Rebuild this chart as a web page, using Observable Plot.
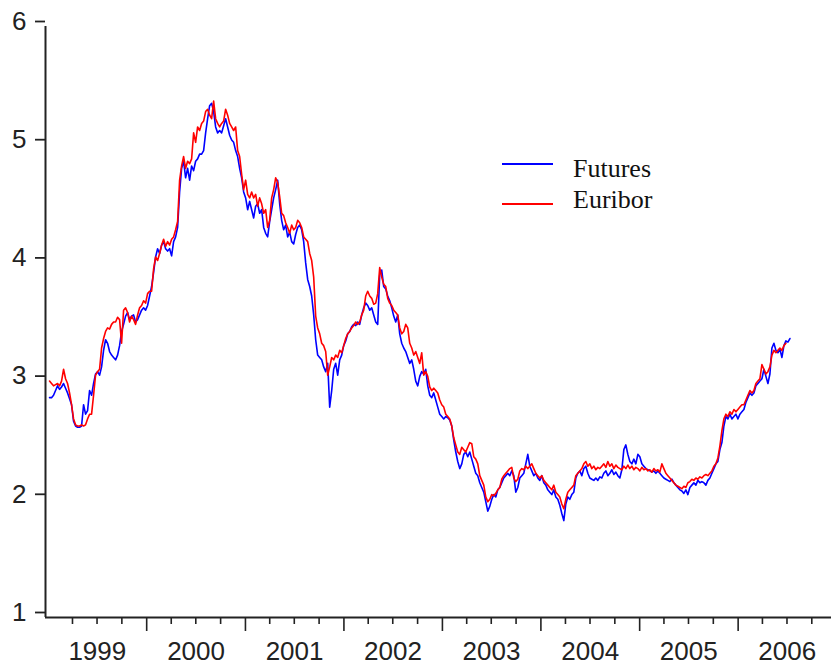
<!DOCTYPE html>
<html>
<head>
<meta charset="utf-8">
<script src="https://cdn.jsdelivr.net/npm/d3@7"></script>
<script src="https://cdn.jsdelivr.net/npm/@observablehq/plot@0.6"></script>
<style>
  html, body { margin: 0; padding: 0; background: #fff; }
  #wrap { position: relative; width: 831px; height: 671px; }
  #legend { position: absolute; left: 0; top: 0; pointer-events: none; }
</style>
</head>
<body>
<div id="wrap"></div>
<script>
// Sampling grid of the series (roughly weekly observations)
const sampleStart = "1999-01-06";
const sampleStepDays = 7.416;

// Series names and colours
const seriesNames = ["Futures", "Euribor"];
const seriesColors = ["#0000ff", "#ff0000"];

// Futures rate (%)
const futures = [
  2.86, 2.86, 2.88, 2.92, 2.96, 2.93, 2.95, 2.98, 2.94, 2.90,
  2.85, 2.80, 2.66, 2.62, 2.61, 2.61, 2.62, 2.80, 2.72, 2.75,
  2.92, 2.88, 2.98, 3.06, 3.08, 3.05, 3.12, 3.26, 3.35, 3.32,
  3.25, 3.22, 3.20, 3.18, 3.22, 3.30, 3.42, 3.48, 3.55, 3.58,
  3.52, 3.55, 3.56, 3.50, 3.52, 3.56, 3.60, 3.62, 3.60, 3.64,
  3.72, 3.80, 3.92, 4.05, 4.12, 4.08, 4.15, 4.18, 4.12, 4.10,
  4.12, 4.06, 4.18, 4.22, 4.30, 4.60, 4.80, 4.86, 4.72, 4.80,
  4.70, 4.82, 4.78, 4.86, 4.88, 4.92, 4.92, 4.95, 5.10, 5.22,
  5.33, 5.35, 5.28, 5.15, 5.10, 5.12, 5.10, 5.16, 5.22, 5.15,
  5.08, 5.04, 5.02, 4.95, 4.90, 4.80, 4.72, 4.60, 4.55, 4.45,
  4.52, 4.45, 4.38, 4.48, 4.50, 4.42, 4.45, 4.30, 4.25, 4.22,
  4.35, 4.45, 4.55, 4.62, 4.70, 4.50, 4.36, 4.28, 4.32, 4.22,
  4.26, 4.18, 4.16, 4.24, 4.30, 4.32, 4.28, 4.18, 4.00, 3.86,
  3.80, 3.72, 3.56, 3.35, 3.22, 3.20, 3.18, 3.12, 3.08, 3.15,
  2.78, 2.92, 3.10, 3.15, 3.05, 3.18, 3.22, 3.30, 3.34, 3.40,
  3.42, 3.46, 3.48, 3.47, 3.50, 3.48, 3.56, 3.62, 3.66, 3.64,
  3.60, 3.62, 3.56, 3.50, 3.48, 3.90, 3.94, 3.80, 3.78, 3.72,
  3.68, 3.62, 3.55, 3.50, 3.56, 3.40, 3.32, 3.28, 3.25, 3.20,
  3.15, 3.18, 3.10, 3.00, 2.96, 3.04, 3.08, 3.06, 3.10, 2.96,
  2.88, 2.86, 2.90, 2.84, 2.78, 2.72, 2.70, 2.68, 2.70, 2.69,
  2.67, 2.62, 2.50, 2.40, 2.32, 2.26, 2.30, 2.38, 2.40, 2.36,
  2.40, 2.34, 2.28, 2.22, 2.20, 2.14, 2.10, 2.06, 1.98, 1.90,
  1.94, 2.00, 2.04, 2.02, 2.08, 2.10, 2.14, 2.18, 2.20, 2.22,
  2.20, 2.24, 2.20, 2.06, 2.10, 2.18, 2.20, 2.22, 2.30, 2.38,
  2.28, 2.24, 2.20, 2.22, 2.18, 2.16, 2.20, 2.14, 2.12, 2.08,
  2.06, 2.04, 2.08, 2.02, 2.00, 1.95, 1.88, 1.82, 1.96, 2.02,
  2.00, 2.04, 2.06, 2.18, 2.22, 2.24, 2.20, 2.26, 2.28, 2.22,
  2.18, 2.17, 2.16, 2.18, 2.16, 2.19, 2.18, 2.22, 2.24, 2.20,
  2.22, 2.25, 2.21, 2.23, 2.20, 2.18, 2.25, 2.42, 2.46, 2.38,
  2.32, 2.30, 2.34, 2.30, 2.38, 2.36, 2.30, 2.28, 2.26, 2.25,
  2.24, 2.23, 2.24, 2.22, 2.24, 2.22, 2.20, 2.18, 2.17, 2.16,
  2.15, 2.17, 2.14, 2.12, 2.10, 2.08, 2.07, 2.05, 2.08, 2.04,
  2.10, 2.12, 2.14, 2.12, 2.16, 2.14, 2.15, 2.14, 2.12, 2.16,
  2.18, 2.22, 2.26, 2.30, 2.32, 2.42, 2.48, 2.62, 2.70, 2.68,
  2.72, 2.68, 2.70, 2.72, 2.68, 2.72, 2.74, 2.76, 2.82, 2.86,
  2.90, 2.88, 2.90, 2.96, 2.98, 3.00, 3.02, 3.10, 3.04, 2.98,
  3.06, 3.28, 3.32, 3.26, 3.24, 3.27, 3.20, 3.30, 3.34, 3.33,
  3.36
];

// 3-month Euribor (%)
const euribor = [
  3.00, 2.98, 2.96, 2.97, 2.98, 2.96, 3.00, 3.10, 3.02, 2.98,
  2.90, 2.80, 2.68, 2.63, 2.62, 2.62, 2.63, 2.62, 2.63, 2.68,
  2.72, 2.72, 2.88, 3.05, 3.08, 3.10, 3.28, 3.36, 3.42, 3.45,
  3.44, 3.48, 3.50, 3.50, 3.54, 3.52, 3.32, 3.60, 3.62, 3.58,
  3.50, 3.55, 3.52, 3.48, 3.56, 3.62, 3.64, 3.68, 3.66, 3.74,
  3.76, 3.76, 3.95, 4.05, 4.02, 4.08, 4.15, 4.20, 4.14, 4.18,
  4.15, 4.20, 4.22, 4.28, 4.35, 4.70, 4.82, 4.90, 4.80, 4.86,
  4.84, 4.88, 5.10, 5.02, 5.15, 5.12, 5.18, 5.20, 5.28, 5.30,
  5.25, 5.22, 5.37, 5.22, 5.18, 5.15, 5.18, 5.20, 5.30, 5.25,
  5.18, 5.15, 5.12, 5.15, 4.95, 4.90, 4.75, 4.62, 4.70, 4.58,
  4.55, 4.60, 4.55, 4.58, 4.48, 4.55, 4.50, 4.42, 4.45, 4.30,
  4.36, 4.55, 4.62, 4.72, 4.68, 4.56, 4.42, 4.40, 4.34, 4.30,
  4.25, 4.32, 4.28, 4.30, 4.36, 4.34, 4.30, 4.22, 4.20, 4.18,
  4.08, 4.02, 3.88, 3.55, 3.45, 3.40, 3.32, 3.30, 3.25, 3.05,
  3.12, 3.20, 3.18, 3.22, 3.20, 3.26, 3.24, 3.30, 3.36, 3.40,
  3.42, 3.45, 3.47, 3.50, 3.48, 3.50, 3.56, 3.60, 3.72, 3.76,
  3.72, 3.70, 3.65, 3.66, 3.74, 3.96, 3.88, 3.82, 3.80, 3.70,
  3.66, 3.64, 3.60, 3.58, 3.56, 3.45, 3.40, 3.42, 3.48, 3.45,
  3.32, 3.28, 3.22, 3.25, 3.20, 3.15, 3.24, 3.05, 3.08, 3.04,
  2.95, 2.92, 2.94, 2.92, 2.90, 2.84, 2.80, 2.78, 2.72, 2.70,
  2.68, 2.62, 2.52, 2.46, 2.40, 2.38, 2.44, 2.42, 2.40, 2.44,
  2.48, 2.47, 2.36, 2.34, 2.30, 2.20, 2.16, 2.12, 2.02, 1.98,
  2.00, 2.04, 2.03, 2.05, 2.08, 2.10, 2.17, 2.20, 2.22, 2.24,
  2.26, 2.27, 2.18, 2.15, 2.17, 2.24, 2.26, 2.25, 2.28, 2.26,
  2.28, 2.30, 2.26, 2.22, 2.20, 2.18, 2.20, 2.16, 2.14, 2.12,
  2.10, 2.08, 2.12, 2.06, 2.04, 2.02, 1.96, 1.92, 2.00, 2.06,
  2.08, 2.10, 2.12, 2.20, 2.22, 2.24, 2.26, 2.30, 2.32, 2.28,
  2.30, 2.26, 2.28, 2.25, 2.27, 2.26, 2.28, 2.30, 2.27, 2.32,
  2.28, 2.30, 2.26, 2.29, 2.27, 2.26, 2.25, 2.28, 2.26, 2.29,
  2.26, 2.28, 2.25, 2.27, 2.26, 2.24, 2.27, 2.25, 2.26, 2.24,
  2.25, 2.23, 2.26, 2.24, 2.25, 2.23, 2.30, 2.26, 2.22, 2.20,
  2.18, 2.16, 2.14, 2.12, 2.11, 2.10, 2.09, 2.11, 2.10, 2.14,
  2.15, 2.17, 2.16, 2.18, 2.17, 2.19, 2.18, 2.20, 2.21, 2.20,
  2.22, 2.24, 2.28, 2.30, 2.35, 2.45, 2.58, 2.68, 2.72, 2.70,
  2.74, 2.72, 2.76, 2.74, 2.76, 2.78, 2.80, 2.80, 2.84, 2.88,
  2.92, 2.90, 2.92, 2.98, 3.00, 3.02, 3.14, 3.10, 3.06, 3.08,
  3.12, 3.22, 3.26, 3.24, 3.26, 3.28, 3.26, 3.30, 3.32, null,
  null
];

// Axis definitions
const xDomain = ["1998-12-22", "2006-12-13"];
const yTicks = [1, 2, 3, 4, 5, 6];
const yearLabels = [1999, 2000, 2001, 2002, 2003, 2004, 2005, 2006];

// ---- build tables ----
const t0 = Date.parse(sampleStart);
const dateAt = i => new Date(t0 + i * sampleStepDays * 864e5);
const toRows = (vals, name) => vals
  .map((v, i) => ({date: dateAt(i), value: v, series: name}))
  .filter(d => d.value != null);
const futRows = toRows(futures, seriesNames[0]);
const eurRows = toRows(euribor, seriesNames[1]);

const yearStarts = yearLabels.slice(1).map(y => new Date(Date.UTC(y, 0, 1)));
const quarterTicks = [];
yearLabels.forEach(y => [3, 6, 9].forEach(m => quarterTicks.push(new Date(Date.UTC(y, m, 1)))));
const midYears = yearLabels.map(y => new Date(Date.UTC(y, 6, 2)));

const xd = xDomain.map(s => new Date(s + "T00:00:00Z"));

const chart = Plot.plot({
  width: 831,
  height: 671,
  marginLeft: 45,
  marginRight: 0,
  marginTop: 26,
  marginBottom: 54,
  x: {type: "utc", domain: xd, label: null},
  y: {domain: [1, 6], label: null},
  style: {
    fontFamily: "'Liberation Sans', Arial, sans-serif",
    fontSize: "26px",
    color: "#222",
    background: "#fff",
    overflow: "visible"
  },
  marks: [
    Plot.axisY(yTicks, {tickSize: 10, tickPadding: 9, dy: -5, label: null, tickFormat: d => String(d), strokeWidth: 1.8}),
    Plot.axisX(quarterTicks, {tickSize: 7, label: null, tickFormat: () => "", strokeWidth: 1.6}),
    Plot.axisX(yearStarts, {tickSize: 14, label: null, tickFormat: () => "", strokeWidth: 1.6}),
    Plot.axisX(midYears, {tickSize: 0, tickPadding: 24, label: null, tickFormat: d3.utcFormat("%Y")}),
    Plot.lineY(futRows, {x: "date", y: "value", stroke: seriesColors[0], strokeWidth: 1.6}),
    Plot.lineY(eurRows, {x: "date", y: "value", stroke: seriesColors[1], strokeWidth: 1.6}),
    Plot.ruleY([1], {stroke: "#222", strokeWidth: 2}),
    Plot.ruleX([xd[0]], {stroke: "#222", strokeWidth: 2})
  ]
});

const wrap = document.getElementById("wrap");
wrap.appendChild(chart);

// ---- legend (inside the plot, upper right) ----
const ns = "http://www.w3.org/2000/svg";
const leg = document.createElementNS(ns, "svg");
leg.setAttribute("id", "legend");
leg.setAttribute("width", 831);
leg.setAttribute("height", 671);
const legendItems = [
  {line: 164, text: 177},
  {line: 204, text: 208}
];
seriesNames.forEach((name, i) => {
  const ln = document.createElementNS(ns, "line");
  ln.setAttribute("x1", 502); ln.setAttribute("x2", 553);
  ln.setAttribute("y1", legendItems[i].line); ln.setAttribute("y2", legendItems[i].line);
  ln.setAttribute("stroke", seriesColors[i]);
  ln.setAttribute("stroke-width", 2);
  leg.appendChild(ln);
  const tx = document.createElementNS(ns, "text");
  tx.setAttribute("x", 573);
  tx.setAttribute("y", legendItems[i].text);
  tx.setAttribute("font-family", "'Liberation Serif', 'Times New Roman', serif");
  tx.setAttribute("font-size", 26);
  tx.setAttribute("fill", "#111");
  tx.textContent = name;
  leg.appendChild(tx);
});
wrap.appendChild(leg);
</script>
</body>
</html>
